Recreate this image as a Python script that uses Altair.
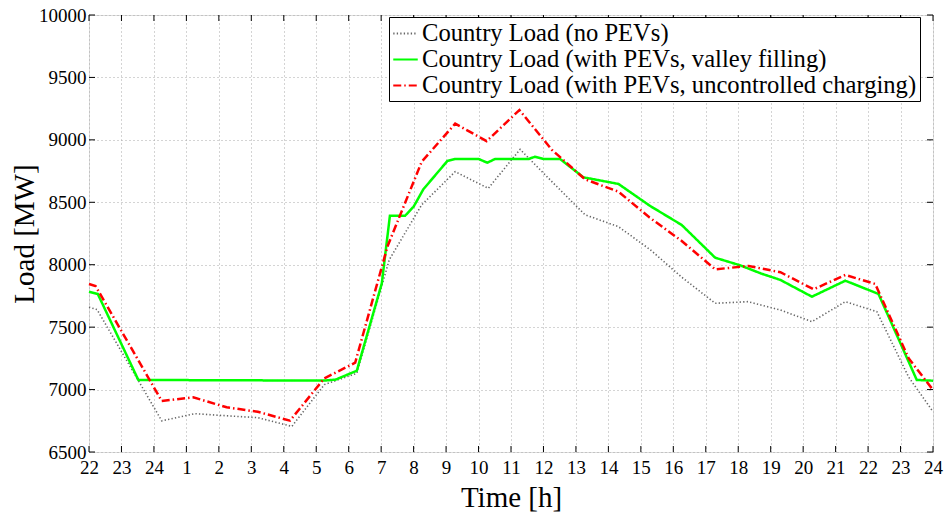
import altair as alt
import pandas as pd

# ---- data (hours since 22:00 of the first day, load in MW) ----
names = [
    "Country Load (no PEVs)",
    "Country Load (with PEVs, valley filling)",
    "Country Load (with PEVs, uncontrolled charging)",
]

t_base = [0, 0.25, 2.24, 3.27, 4.24, 5.2, 6.25, 7.25, 8.25, 9.25, 10.25, 11.28, 12.3,
          13.28, 14.28, 15.28, 16.31, 17.29, 18.26, 19.29, 20.3, 21.3, 22.27, 23.3,
          24.27, 25.25, 26]
v_base = [7660, 7640, 6750, 6807, 6790, 6775, 6705, 7040, 7130, 8040, 8480, 8745, 8612,
          8924, 8660, 8400, 8305, 8120, 7900, 7691, 7704, 7637, 7544, 7704,
          7624, 7100, 6823]

t_valley = [0, 0.27, 1.52, 7.25, 7.6, 8.25, 9.02, 9.27, 9.74, 10.0, 10.3, 11.04, 11.28,
            12.0, 12.27, 12.51, 13.54, 13.74, 14.0, 14.51, 15.23, 16.31, 17.29, 18.26,
            19.29, 20.06, 20.7, 21.3, 22.27, 23.3, 24.32, 25.5, 26]
v_valley = [7784, 7766, 7077, 7072, 7080, 7151, 7851, 8393, 8393, 8465, 8604, 8831, 8847,
            8847, 8817, 8847, 8847, 8865, 8847, 8847, 8700, 8647, 8470, 8318,
            8056, 7995, 7930, 7878, 7744, 7872, 7766, 7077, 7071]

t_unctrl = [0, 0.2, 2.24, 3.21, 4.24, 5.2, 6.19, 7.25, 8.2, 9.2, 10.25, 11.28, 12.25,
            13.26, 14.26, 15.28, 16.31, 17.26, 18.26, 19.29, 20.32, 21.3, 22.32, 23.3,
            24.22, 25.25, 26]
v_unctrl = [7846, 7830, 6909, 6938, 6858, 6822, 6751, 7090, 7215, 8150, 8825, 9130, 8990,
            9239, 8920, 8684, 8585, 8380, 8190, 7963, 7990, 7940, 7803, 7918,
            7846, 7250, 6997]

x_ticks = list(range(0, 27))
y_ticks = [6500, 7000, 7500, 8000, 8500, 9000, 9500, 10000]

colors = ["#666666", "#00ff00", "#ff0000"]
dashes = [[1.3, 2.2], [1, 0], [8, 3, 1.5, 3]]
widths = [1.6, 2.5, 2.5]

FONT = "Liberation Serif"
W, H = 844, 437

df_b = pd.DataFrame({"t": t_base, "load": v_base, "series": names[0]})
df_v = pd.DataFrame({"t": t_valley, "load": v_valley, "series": names[1]})
df_u = pd.DataFrame({"t": t_unctrl, "load": v_unctrl, "series": names[2]})

xscale = alt.Scale(domain=[0, 26], nice=False, zero=False)
yscale = alt.Scale(domain=[6500, 10000], nice=False, zero=False)

xaxis = alt.Axis(values=x_ticks, labelExpr="((datum.value + 21) % 24) + 1",
                 grid=True, gridDash=[1, 3], gridColor="#a8a8a8", gridWidth=1,
                 domain=False, ticks=False, labelPadding=6, labelFontSize=19,
                 labelFont=FONT, labelColor="black", labelFlush=False, labelOverlap=False,
                 title="Time [h]", titleFont=FONT, titleFontSize=29, titleFontWeight="normal",
                 titleColor="black", titleBaseline="alphabetic", titleY=54)
yaxis = alt.Axis(values=y_ticks, format="d", grid=True, gridDash=[1, 3], gridColor="#a8a8a8",
                 gridWidth=1, domain=False, ticks=False, labelPadding=3, labelFontSize=19,
                 labelFont=FONT, labelColor="black", labelFlush=False, labelOverlap=False,
                 title="Load [MW]", titleFont=FONT, titleFontSize=29, titleFontWeight="normal",
                 titleColor="black", titleBaseline="alphabetic", titleX=-56, titleY=H / 2)

color_enc = alt.Color("series:N", sort=None,
                      scale=alt.Scale(domain=names, range=colors),
                      legend=alt.Legend(title=None, orient="none", legendX=300, legendY=2,
                                        direction="vertical", fillColor="white",
                                        strokeColor="black", padding=3,
                                        labelFont=FONT, labelFontSize=24.6, labelColor="black",
                                        symbolType="stroke", symbolSize=600,
                                        symbolStrokeWidth=2, labelOffset=3, rowPadding=-1.6,
                                        labelLimit=700))
dash_enc = alt.StrokeDash("series:N", sort=None,
                          scale=alt.Scale(domain=names, range=dashes), legend=None)

X = alt.X("t:Q", scale=xscale, axis=xaxis)
Y = alt.Y("load:Q", scale=yscale, axis=yaxis)


def line_layer(df, w):
    return alt.Chart(df).mark_line(strokeWidth=w).encode(
        x=X, y=Y, color=color_enc, strokeDash=dash_enc,
    )


lines = [line_layer(d, w) for d, w in zip([df_b, df_v, df_u], widths)]

xt = pd.DataFrame({"t": x_ticks})
yt = pd.DataFrame({"load": y_ticks})
tick_len = 6
bot = alt.Chart(xt).mark_rule(color="black", strokeWidth=1).encode(
    x=X, y=alt.value(H), y2=alt.value(H - tick_len))
top = alt.Chart(xt).mark_rule(color="black", strokeWidth=1).encode(
    x=X, y=alt.value(0), y2=alt.value(tick_len))
left = alt.Chart(yt).mark_rule(color="black", strokeWidth=1).encode(
    y=Y, x=alt.value(0), x2=alt.value(tick_len))
right = alt.Chart(yt).mark_rule(color="black", strokeWidth=1).encode(
    y=Y, x=alt.value(W), x2=alt.value(W - tick_len))

chart = alt.layer(*lines, bot, top, left, right).properties(
    width=W, height=H,
    padding={"left": 89, "top": 15, "right": 14, "bottom": 62},
    autosize=alt.AutoSizeParams(type="none"),
).configure_view(stroke="#222222", strokeWidth=1.5).configure(background="white")

chart.save("out.html", embed_options={"renderer": "svg", "actions": False})
